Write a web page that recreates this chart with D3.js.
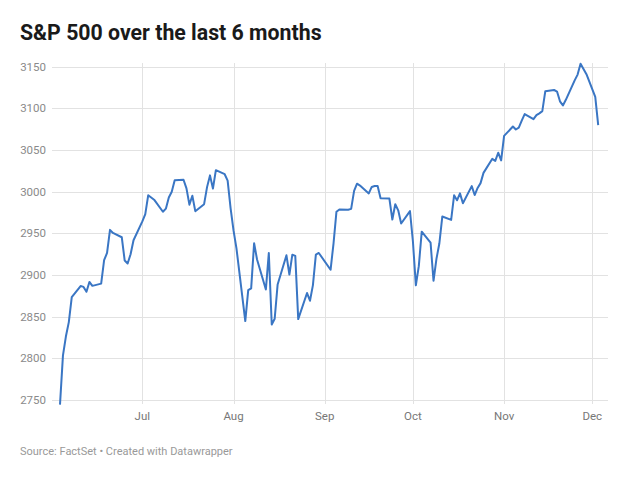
<!DOCTYPE html>
<html>
<head>
<meta charset="utf-8">
<script src="https://cdn.jsdelivr.net/npm/d3@7"></script>
<style>
  html, body { margin: 0; padding: 0; background: #fff; }
  svg { display: block; font-family: Roboto, "Noto Sans", sans-serif; }
</style>
</head>
<body>
<svg id="chart" width="630" height="482"></svg>
<script>
const title = "S&P 500 over the last 6 months";
const source = "Source: FactSet • Created with Datawrapper";

const dates = [
  "2019-06-03","2019-06-04","2019-06-05","2019-06-06","2019-06-07","2019-06-10","2019-06-11","2019-06-12","2019-06-13","2019-06-14",
  "2019-06-17","2019-06-18","2019-06-19","2019-06-20","2019-06-21","2019-06-24","2019-06-25","2019-06-26","2019-06-27","2019-06-28",
  "2019-07-01","2019-07-02","2019-07-03","2019-07-05","2019-07-08","2019-07-09","2019-07-10","2019-07-11","2019-07-12","2019-07-15",
  "2019-07-16","2019-07-17","2019-07-18","2019-07-19","2019-07-22","2019-07-23","2019-07-24","2019-07-25","2019-07-26","2019-07-29",
  "2019-07-30","2019-07-31","2019-08-01","2019-08-02","2019-08-05","2019-08-06","2019-08-07","2019-08-08","2019-08-09","2019-08-12",
  "2019-08-13","2019-08-14","2019-08-15","2019-08-16","2019-08-19","2019-08-20","2019-08-21","2019-08-22","2019-08-23","2019-08-26",
  "2019-08-27","2019-08-28","2019-08-29","2019-08-30","2019-09-03","2019-09-04","2019-09-05","2019-09-06","2019-09-09","2019-09-10",
  "2019-09-11","2019-09-12","2019-09-13","2019-09-16","2019-09-17","2019-09-18","2019-09-19","2019-09-20","2019-09-23","2019-09-24",
  "2019-09-25","2019-09-26","2019-09-27","2019-09-30","2019-10-01","2019-10-02","2019-10-03","2019-10-04","2019-10-07","2019-10-08",
  "2019-10-09","2019-10-10","2019-10-11","2019-10-14","2019-10-15","2019-10-16","2019-10-17","2019-10-18","2019-10-21","2019-10-22",
  "2019-10-23","2019-10-24","2019-10-25","2019-10-28","2019-10-29","2019-10-30","2019-10-31","2019-11-01","2019-11-04","2019-11-05",
  "2019-11-06","2019-11-07","2019-11-08","2019-11-11","2019-11-12","2019-11-13","2019-11-14","2019-11-15","2019-11-18","2019-11-19",
  "2019-11-20","2019-11-21","2019-11-22","2019-11-25","2019-11-26","2019-11-27","2019-11-29","2019-12-02","2019-12-03"
];
const values = [
  2744.45,2803.27,2826.15,2843.49,2873.34,2886.73,2885.72,2879.84,2891.64,2886.98,
  2889.67,2917.75,2926.46,2954.18,2950.46,2945.35,2917.38,2913.78,2924.92,2941.76,
  2964.33,2973.01,2995.82,2990.41,2975.95,2979.63,2993.07,2999.91,3013.77,3014.30,
  3004.04,2984.42,2995.11,2976.61,2985.03,3005.47,3019.56,3003.67,3025.86,3020.97,
  3013.18,2980.38,2953.56,2932.05,2844.74,2881.77,2883.98,2938.09,2918.65,2882.70,
  2926.32,2840.60,2847.60,2888.68,2923.65,2900.51,2924.43,2922.95,2847.11,2878.38,
  2869.16,2887.94,2924.58,2926.46,2906.27,2937.78,2976.00,2978.71,2978.43,2979.39,
  3000.93,3009.57,3007.39,2997.96,3005.70,3006.73,3006.79,2992.07,2991.78,2966.60,
  2984.87,2977.62,2961.79,2976.74,2940.25,2887.61,2910.63,2952.01,2938.79,2893.06,
  2919.40,2938.13,2970.27,2966.15,2995.68,2989.69,2997.95,2986.20,3006.72,2995.99,
  3004.52,3010.29,3022.55,3039.42,3036.89,3046.77,3037.56,3066.91,3078.27,3074.62,
  3076.78,3085.18,3093.08,3087.01,3091.84,3094.04,3096.63,3120.46,3122.03,3120.18,
  3108.46,3103.54,3110.29,3133.64,3140.52,3153.63,3140.98,3113.87,3080.00
];
const yTicks = [2750, 2800, 2850, 2900, 2950, 3000, 3050, 3100, 3150];
const xTickDates = ["2019-07-01","2019-08-01","2019-09-01","2019-10-01","2019-11-01","2019-12-01"];
const xTickLabels = ["Jul","Aug","Sep","Oct","Nov","Dec"];

const parse = d3.utcParse("%Y-%m-%d");
const data = dates.map((d, i) => ({ date: parse(d), value: values[i] }));

const svg = d3.select("#chart");

const x = d3.scaleUtc()
  .domain([parse(dates[0]), parse(dates[dates.length - 1])])
  .range([60, 598.2]);
const y = d3.scaleLinear()
  .domain([2750, 3150])
  .range([400, 66.7]);

// Title
svg.append("text")
  .attr("x", 20).attr("y", 39.5)
  .attr("font-size", 21.3).attr("font-weight", 700)
  .attr("fill", "#1a1a1a")
  .text(title);

// Horizontal grid + y labels
const gy = svg.append("g");
gy.selectAll("line").data(yTicks).join("line")
  .attr("x1", 52).attr("x2", 608)
  .attr("y1", d => Math.round(y(d)) + 0.5).attr("y2", d => Math.round(y(d)) + 0.5)
  .attr("stroke", "#e2e2e2").attr("stroke-width", 1);
gy.selectAll("text").data(yTicks).join("text")
  .attr("x", 46).attr("y", d => y(d))
  .attr("dy", "0.35em")
  .attr("text-anchor", "end")
  .attr("font-size", 11.5)
  .attr("fill", "#8a8a8a")
  .text(d => d);

// Vertical grid + x labels
const gx = svg.append("g");
gx.selectAll("line").data(xTickDates).join("line")
  .attr("x1", d => Math.round(x(parse(d))) + 0.5).attr("x2", d => Math.round(x(parse(d))) + 0.5)
  .attr("y1", 63).attr("y2", 404)
  .attr("stroke", "#e2e2e2").attr("stroke-width", 1);
gx.selectAll("text").data(xTickDates).join("text")
  .attr("x", d => x(parse(d))).attr("y", 420)
  .attr("text-anchor", "middle")
  .attr("font-size", 11.5)
  .attr("fill", "#777")
  .text((d, i) => xTickLabels[i]);

// Line
const line = d3.line()
  .x(d => x(d.date))
  .y(d => y(d.value));
svg.append("path")
  .datum(data)
  .attr("d", line)
  .attr("fill", "none")
  .attr("stroke", "#3a76c4")
  .attr("stroke-width", 2)
  .attr("stroke-linejoin", "round");

// Source
svg.append("text")
  .attr("x", 20).attr("y", 454.5)
  .attr("font-size", 11)
  .attr("fill", "#999")
  .text(source);
</script>
</body>
</html>
